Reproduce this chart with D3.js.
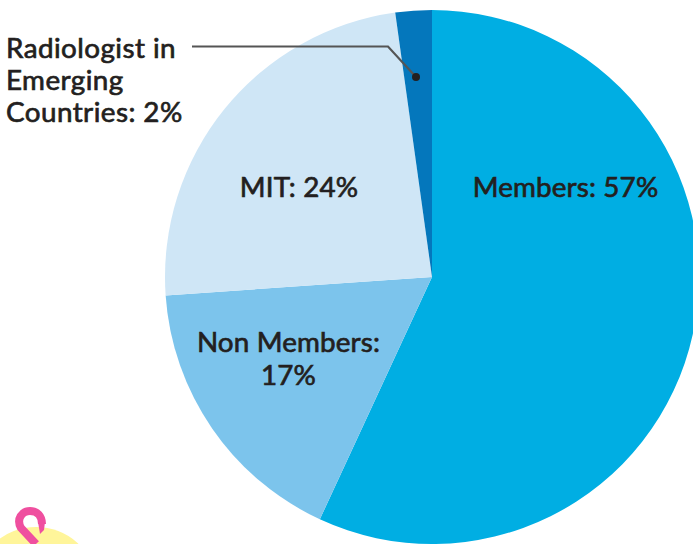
<!DOCTYPE html>
<html><head><meta charset="utf-8">
<script src="https://cdn.jsdelivr.net/npm/d3@7/dist/d3.min.js"></script>
<style>html,body{margin:0;background:#fff}svg{display:block}text{font-family:Lato,sans-serif;font-weight:400;fill:#231F20;stroke:#231F20;stroke-width:.7px;font-size:27.8px;letter-spacing:.15px}text.side{letter-spacing:.45px}</style>
</head><body><svg id="c" width="693" height="544"></svg>
<script>
const categories=["Members","Non Members","MIT","Radiologist in Emerging Countries"];
const values=[56.9,17,23.9,2.2];
const colors=["#00AEE3","#7CC4EC","#CFE6F6","#0477BC"];
const svg=d3.select("#c");
const cx=432,cy=277,r=267;
const pie=d3.pie().sort(null).value((d,i)=>values[i]);
const arc=d3.arc().innerRadius(0).outerRadius(r);
svg.append("g").attr("transform",`translate(${cx},${cy})`).selectAll("path").data(pie(categories)).join("path").attr("d",arc).attr("fill",(d,i)=>colors[i]);
const labels=[{l:["Members: 57%"],x:565.5,y:197},{l:["Non Members:","17%"],x:288.5,y:352},{l:["MIT: 24%"],x:299,y:197}];
labels.forEach(o=>{const t=svg.append("text").attr("text-anchor","middle");o.l.forEach((s,i)=>t.append("tspan").attr("x",o.x).attr("y",o.y+i*33).text(s));});
const t=svg.append("text").attr("class","side");["Radiologist in","Emerging","Countries: 2%"].forEach((s,i)=>t.append("tspan").attr("x",6).attr("y",57.5+i*32).text(s));
svg.append("path").attr("d","M192,46.5H388L416,77").attr("fill","none").attr("stroke","#555").attr("stroke-width",2.2);
svg.append("circle").attr("cx",416).attr("cy",77).attr("r",4).attr("fill","#231F20");
svg.append("ellipse").attr("cx",36).attr("cy",580).attr("rx",58).attr("ry",53).attr("fill","#FFF59A");
svg.append("path").attr("d","M36,544L21,528C16,519 22,511 30,511C37,511 42,516 42,524").attr("fill","none").attr("stroke","#EF4F9F").attr("stroke-width",8);
svg.append("path").attr("d","M38,522L45,522L44,530L40,534Z").attr("fill","#EF4F9F");
</script></body></html>
